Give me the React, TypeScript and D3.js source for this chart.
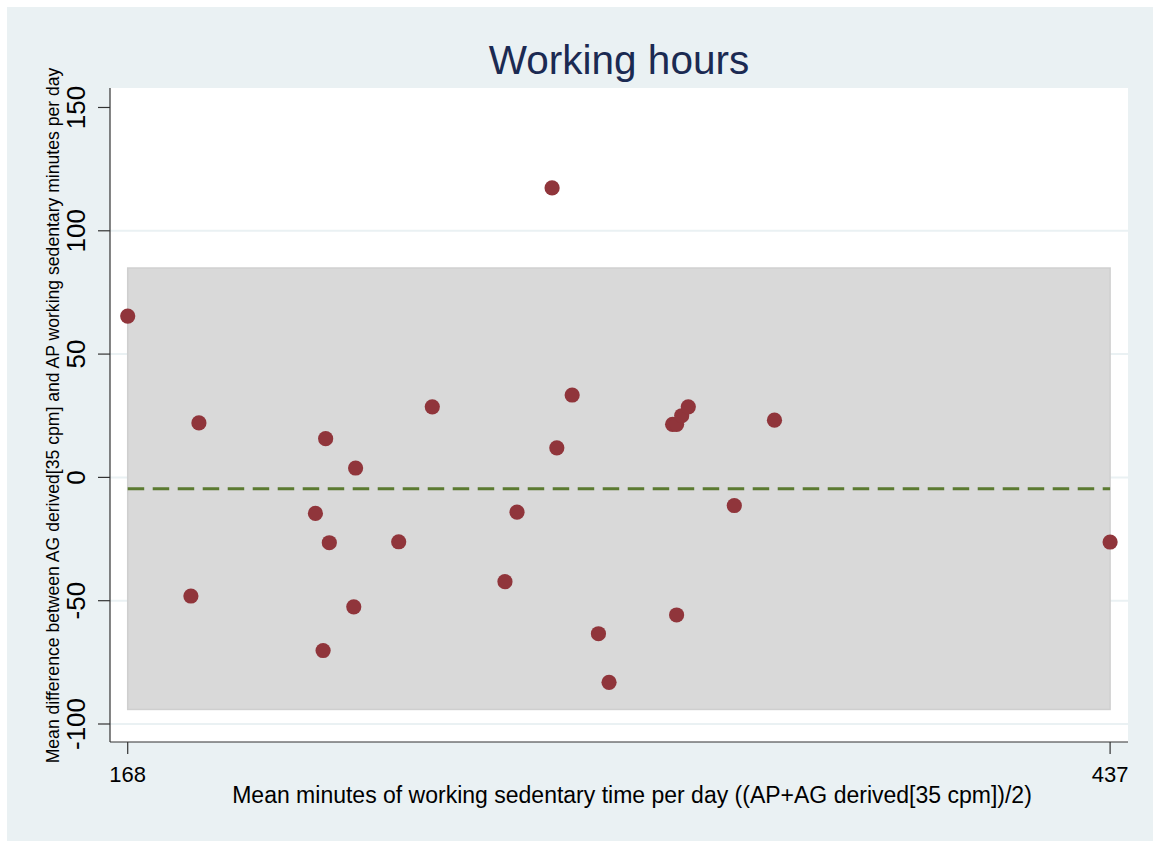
import React from "react";
import * as d3 from "d3";

const titleText = "Working hours";
const xTitle = "Mean minutes of working sedentary time per day ((AP+AG derived[35 cpm])/2)";
const yTitle = "Mean difference between AG derived[35 cpm] and AP working sedentary minutes per day";

const meanMinutes = [168, 187.5, 185.3, 222.2, 230.4, 219.4, 223.2, 221.5, 229.9, 242.2, 251.4, 271.3, 274.6, 284.2, 285.5, 289.7, 296.9, 299.8, 317.2, 318.3, 319.7, 321.5, 318.3, 334.1, 345.1, 437];
const meanDiff = [65.4, 22.1, -48.1, 15.7, 3.8, -14.6, -26.5, -70.2, -52.5, -26.1, 28.6, -42.3, -14.1, 117.4, 12.0, 33.4, -63.4, -83.1, 21.5, 21.5, 25.0, 28.6, -55.8, -11.4, 23.2, -26.2];

const yTicks = [-100, -50, 0, 50, 100, 150];
const yGridTicks = [-100, -50, 0, 50, 100];
const xTicks = [168, 437];

const bias = -4.6;
const upperLoA = 84.9;
const lowerLoA = -94.1;

const W = 1153;
const H = 841;
const plot = { left: 110, right: 1128, top: 88, bottom: 742 };

export default function App() {
  const x = d3.scaleLinear().domain([163.15, 441.9]).range([plot.left, plot.right]);
  const y = d3.scaleLinear().domain([157.9, -107.3]).range([plot.top, plot.bottom]);
  const xMin = d3.min(meanMinutes) as number;
  const xMax = d3.max(meanMinutes) as number;
  const font = "'Liberation Sans', Arial, sans-serif";

  return (
    <svg width={W} height={H} style={{ position: "absolute", left: 0, top: 0 }} fontFamily={font}>
      <rect x={0} y={0} width={W} height={H} fill="#ffffff" />
      <rect x={7} y={7} width={W - 7} height={H - 7} fill="#EAF1F3" />
      <rect x={plot.left} y={plot.top} width={plot.right - plot.left} height={plot.bottom - plot.top} fill="#ffffff" />
      {yGridTicks.map((t) => (
        <line key={"g" + t} x1={plot.left} x2={plot.right} y1={y(t)} y2={y(t)} stroke="#EAF1F3" strokeWidth={2} />
      ))}
      <rect
        x={x(xMin)}
        y={y(upperLoA)}
        width={x(xMax) - x(xMin)}
        height={y(lowerLoA) - y(upperLoA)}
        fill="#D9D9D9"
        stroke="#CFCFCF"
        strokeWidth={1.5}
      />
      <line
        x1={x(xMin)}
        x2={x(xMax)}
        y1={y(bias)}
        y2={y(bias)}
        stroke="#5B7A31"
        strokeWidth={3}
        strokeDasharray="16.5 8.5"
      />
      {meanMinutes.map((m, i) => (
        <circle key={"p" + i} cx={x(m)} cy={y(meanDiff[i])} r={7.6} fill="#90353B" />
      ))}
      <line x1={plot.left} x2={plot.left} y1={plot.top} y2={plot.bottom} stroke="#333" strokeWidth={1.2} />
      <line x1={plot.left} x2={plot.right} y1={plot.bottom} y2={plot.bottom} stroke="#333" strokeWidth={1.2} />
      {yTicks.map((t) => (
        <g key={"yt" + t}>
          <line x1={plot.left - 12} x2={plot.left} y1={y(t)} y2={y(t)} stroke="#333" strokeWidth={1.2} />
          <text
            transform={`translate(85,${y(t)}) rotate(-90)`}
            textAnchor="middle"
            fontSize={26}
            fill="#000"
          >
            {t}
          </text>
        </g>
      ))}
      {xTicks.map((t) => (
        <g key={"xt" + t}>
          <line x1={x(t)} x2={x(t)} y1={plot.bottom} y2={plot.bottom + 12} stroke="#333" strokeWidth={1.2} />
          <text x={x(t)} y={782} textAnchor="middle" fontSize={22} fill="#000">
            {t}
          </text>
        </g>
      ))}
      <text x={632} y={803} textAnchor="middle" fontSize={23} fill="#000">
        {xTitle}
      </text>
      <text transform={`translate(59,415.5) rotate(-90)`} textAnchor="middle" fontSize={17.6} fill="#000">
        {yTitle}
      </text>
      <text x={619} y={74} textAnchor="middle" fontSize={40.5} fill="#1B2A52">
        {titleText}
      </text>
    </svg>
  );
}
